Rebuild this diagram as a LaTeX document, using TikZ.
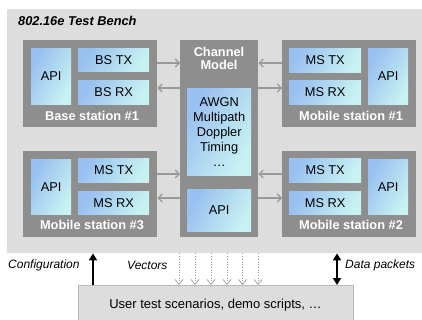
\documentclass[tikz,border=0pt]{standalone}
\usepackage{fontspec}
\setmainfont{Liberation Sans}
\usetikzlibrary{arrows.meta}
\definecolor{benchbg}{HTML}{DDDDDD}
\definecolor{boxgray}{HTML}{8E8E8E}
\definecolor{inblue}{HTML}{98C0F0}
\definecolor{incyan}{HTML}{C8F2F2}
\definecolor{conngray}{HTML}{999999}
\definecolor{userborder}{HTML}{B8B8B8}
\tikzset{
  benchbox/.style={fill=benchbg, draw=none, anchor=north west, inner sep=0pt},
  graybox/.style={fill=boxgray, draw=none, anchor=north west, inner sep=0pt},
  inbox/.style={left color=inblue, right color=incyan, shading angle=60, draw=none, anchor=north west, inner sep=0pt, font=\fontsize{12.8}{15}\selectfont, align=center},
  wlabel/.style={text=white, font=\bfseries\fontsize{12.8}{14}\selectfont, align=center},
  conn/.style={draw=conngray, line width=1.6pt, -{Straight Barb[length=4pt,width=8pt,line width=1.2pt]}},
  vec/.style={draw=conngray, line width=0.7pt, dotted, -{Straight Barb[length=5pt,width=8pt,line width=0.7pt,sep=0pt]}},
  thick/.style={draw=black, line width=2.6pt},
  itlabel/.style={font=\itshape\fontsize{12}{14}\selectfont, anchor=west, inner sep=0pt},
}
\begin{document}
\begin{tikzpicture}[x=1pt,y=-1pt]
\useasboundingbox (0,0) rectangle (422,320);
\fill[white] (0,0) rectangle (422,320);
% bench
\node[benchbox, minimum width=415pt, minimum height=244pt] (bench) at (7,9) {};
\node[font=\bfseries\itshape\fontsize{12.8}{14}\selectfont, anchor=west, inner sep=0pt] (title) at (18,21) {802.16e Test Bench};
% base station 1
\node[graybox, minimum width=134pt, minimum height=87pt] (bs1) at (23,40) {};
\node[inbox, minimum width=40pt, minimum height=56pt] (bs1api) at (31,48) {API};
\node[inbox, minimum width=71pt, minimum height=23pt] (bstx) at (78,48) {BS TX};
\node[inbox, minimum width=71pt, minimum height=24pt] (bsrx) at (78,80) {BS RX};
\node[wlabel] (bs1lab) at (92,116) {Base station \#1};
% channel
\node[graybox, minimum width=78pt, minimum height=197pt] (ch) at (180,40) {};
\node[wlabel, font=\bfseries\fontsize{12.8}{13.5}\selectfont] (chlab) at (219,58.5) {Channel\\Model};
\node[inbox, minimum width=64pt, minimum height=87pt] (awgn) at (187,88) {AWGN\\Multipath\\Doppler\\Timing\\…};
\node[inbox, minimum width=64pt, minimum height=42pt] (chapi) at (187,189) {API};
% mobile station 1
\node[graybox, minimum width=134pt, minimum height=87pt] (ms1) at (282,40) {};
\node[inbox, minimum width=72pt, minimum height=24pt] (ms1tx) at (289,48) {MS TX};
\node[inbox, minimum width=72pt, minimum height=24pt] (ms1rx) at (289,80) {MS RX};
\node[inbox, minimum width=40pt, minimum height=56pt] (ms1api) at (368,48) {API};
\node[wlabel] (ms1lab) at (351,116) {Mobile station \#1};
% mobile station 3
\node[graybox, minimum width=134pt, minimum height=86pt] (ms3) at (23,151) {};
\node[inbox, minimum width=40pt, minimum height=55pt] (ms3api) at (31,159) {API};
\node[inbox, minimum width=71pt, minimum height=24pt] (ms3tx) at (78,158) {MS TX};
\node[inbox, minimum width=71pt, minimum height=23pt] (ms3rx) at (78,191) {MS RX};
\node[wlabel] (ms3lab) at (92,225) {Mobile station \#3};
% mobile station 2
\node[graybox, minimum width=134pt, minimum height=86pt] (ms2) at (282,151) {};
\node[inbox, minimum width=72pt, minimum height=24pt] (ms2tx) at (289,158) {MS TX};
\node[inbox, minimum width=72pt, minimum height=23pt] (ms2rx) at (289,191) {MS RX};
\node[inbox, minimum width=40pt, minimum height=55pt] (ms2api) at (368,159) {API};
\node[wlabel] (ms2lab) at (351,225) {Mobile station \#2};
% connectors
\draw[conn] ([yshift=-23pt]bs1.north east) -- ([yshift=-23pt]ch.north west);
\draw[conn] ([yshift=-48pt]ch.north west) -- ([yshift=-48pt]bs1.north east);
\draw[conn] ([yshift=-23pt]ms1.north west) -- ([yshift=-23pt]ch.north east);
\draw[conn] ([yshift=-48pt]ch.north east) -- ([yshift=-48pt]ms1.north west);
\draw[conn] ([yshift=-23pt]ms3.north east) -- ([yshift=-134pt]ch.north west);
\draw[conn] ([yshift=-158pt]ch.north west) -- ([yshift=-47pt]ms3.north east);
\draw[conn] ([yshift=-23pt]ms2.north west) -- ([yshift=-134pt]ch.north east);
\draw[conn] ([yshift=-158pt]ch.north east) -- ([yshift=-47pt]ms2.north west);
% user box
\node[fill=benchbg, draw=userborder, line width=0.8pt, anchor=north west, minimum width=275pt, minimum height=40pt, inner sep=0pt] (user) at (78,285) {};
\node[font=\fontsize{13}{15}\selectfont] (usertext) at (215.5,305) {User test scenarios, demo scripts, …};
% bottom arrows
\draw[thick, -{Triangle[length=7pt,width=8pt]}] (user.north west -| 93,0) -- (bench.south west -| 93,0);
\draw[thick, {Triangle[length=7pt,width=8pt]}-{Triangle[length=7pt,width=8pt]}] (bench.south west -| 337,0) -- (user.north west -| 337,0);
\foreach \xx in {179,195,211,227,242.5,258}{
  \draw[vec] (bench.south west -| \xx,0) -- (user.north west -| \xx,0);
}
\node[itlabel] (cfg) at (8,265) {Configuration};
\node[itlabel] (vlab) at (127,265) {Vectors};
\node[itlabel] (dlab) at (345,265) {Data packets};
\end{tikzpicture}
\end{document}
